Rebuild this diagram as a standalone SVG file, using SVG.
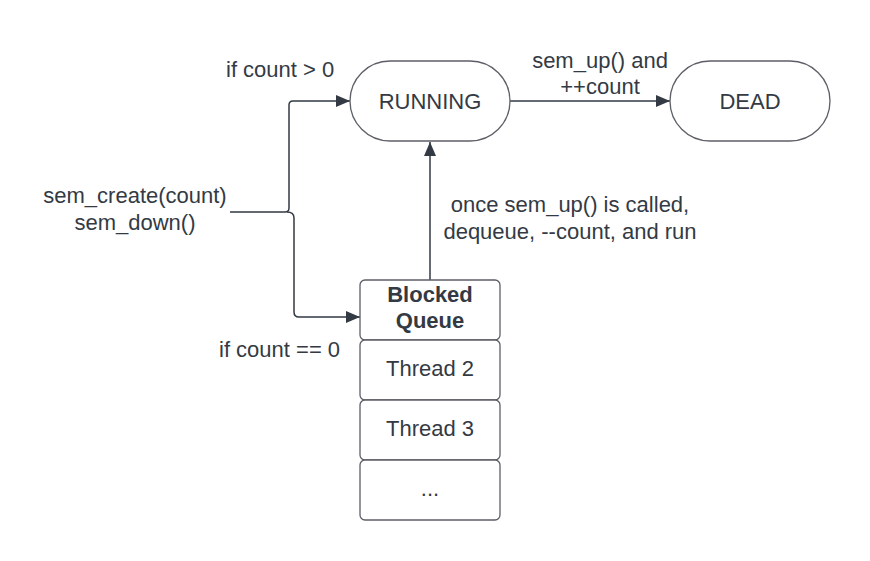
<svg xmlns="http://www.w3.org/2000/svg" width="870" height="561" viewBox="0 0 870 561">
<defs>
<marker id="arr" markerUnits="userSpaceOnUse" markerWidth="14" markerHeight="12" viewBox="0 0 14 12" refX="14" refY="6" orient="auto">
<path d="M0,0 L14,6 L0,12 Z" fill="#333a44"/>
</marker>
</defs>
<style>
text{font-family:"Liberation Sans",Arial,sans-serif;font-size:22px;fill:#333a44}
.c{text-anchor:middle}
.b{font-weight:bold}
.n{fill:#fff;stroke:#5c5f66;stroke-width:1.3}
.e{fill:none;stroke:#333a44;stroke-width:1.5}
</style>
<rect width="870" height="561" fill="#fff"/>
<g id="connectors">
<path class="e" d="M230,212 H285 Q289,212 289,208 V105 Q289,101 293,101 H350" marker-end="url(#arr)"/>
<path class="e" d="M287,212 Q294,212 294,218 V312 Q294,317 299,317 H360" marker-end="url(#arr)"/>
<path class="e" d="M430,280 V142" marker-end="url(#arr)"/>
<path class="e" d="M510,101 H670" marker-end="url(#arr)"/>
</g>
<g id="running">
<rect class="n" x="350" y="61" width="160" height="80" rx="40"/>
<text class="c" x="430" y="109">RUNNING</text>
</g>
<g id="dead">
<rect class="n" x="670" y="61" width="160" height="80" rx="40"/>
<text class="c" x="750" y="109">DEAD</text>
</g>
<g id="blocked-queue">
<rect class="n" x="360" y="280" width="140" height="60" rx="5"/>
<text class="c b" x="430" y="302">Blocked</text>
<text class="c b" x="430" y="328">Queue</text>
<rect class="n" x="360" y="340" width="140" height="60" rx="5"/>
<text class="c" x="430" y="376">Thread 2</text>
<rect class="n" x="360" y="400" width="140" height="60" rx="5"/>
<text class="c" x="430" y="436">Thread 3</text>
<rect class="n" x="360" y="460" width="140" height="60" rx="5"/>
<text class="c" x="430" y="496">...</text>
</g>
<g id="labels">
<text x="226" y="77">if count &gt; 0</text>
<text class="c" x="135" y="203">sem_create(count)</text>
<text class="c" x="135" y="230">sem_down()</text>
<text x="219" y="357">if count == 0</text>
<text class="c" x="600" y="68">sem_up() and</text>
<text class="c" x="600" y="94">++count</text>
<text class="c" x="570" y="212">once sem_up() is called,</text>
<text class="c" x="570" y="239">dequeue, --count, and run</text>
</g>
</svg>
